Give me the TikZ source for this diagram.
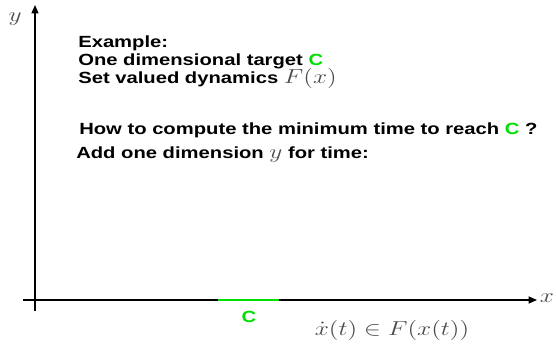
\documentclass[tikz,border=0pt]{standalone}
\usepackage{fontspec}
\setmainfont{Liberation Sans}
\usepackage{xcolor}
\usepackage{graphicx}
\usetikzlibrary{arrows.meta,positioning}
\definecolor{targetgreen}{RGB}{0,224,0}
\definecolor{mathgray}{gray}{0.3}
% the slide is stretched sideways
\newcommand{\wx}[1]{\scalebox{1.25}[1]{#1}}
\newcommand{\mx}[1]{\textcolor{mathgray}{\mdseries\fontsize{13.5}{15}\selectfont$#1$}}

\begin{document}
\begin{tikzpicture}[x=0.025cm, y=-0.025cm, every node/.style={font=\fontsize{11.5}{13}\selectfont\bfseries, inner sep=0pt}, txt/.style={anchor=base west}, mth/.style={text=mathgray, font=\fontsize{14}{16}\selectfont}, axis/.style={line width=0.9pt, -{Triangle[length=6pt,width=5pt]}}]
\useasboundingbox (0,0) rectangle (556,349);
% axes
\coordinate (xl) at (23,300);
\coordinate (xr) at (537,300);
\coordinate (yb) at (35,311);
\coordinate (yt) at (35,5);
\draw[axis] (xl) -- (xr);
\draw[axis] (yb) -- (yt);
\node[mth] (xlab) at (547,298) {\wx{$x$}};
\node[mth] (ylab) at (15,19) {\wx{$y$}};
% target
\coordinate (c1) at (218,300);
\coordinate (c2) at (279,300);
\draw[targetgreen, line width=2pt] (c1) -- (c2);
\node[text=targetgreen] (clab) at (249,317) {\wx{C}};
\node[mth] (dyn) at (392,330) {\wx{$\dot{x}(t)\in F(x(t))$}};
% text
\node[txt] (t1) at (78,47) {\wx{Example:}};
\node[txt] (t2) at (78,65) {\wx{One dimensional target \textcolor{targetgreen}{C}}};
\node[txt] (t3) at (78,83) {\wx{Set valued dynamics \mx{F(x)}}};
\node[txt] (t4) at (79,134) {\wx{How to compute the minimum time to reach \textcolor{targetgreen}{C} ?}};
\node[txt] (t5) at (76,158) {\wx{Add one dimension \mx{y} for time:}};
\end{tikzpicture}
\end{document}
